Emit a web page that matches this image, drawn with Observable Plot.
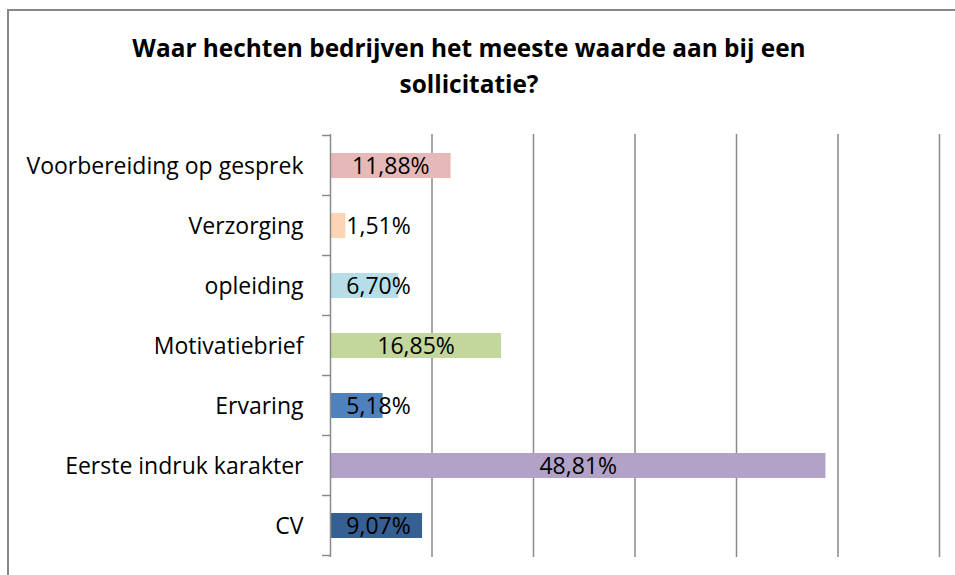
<!DOCTYPE html>
<html>
<head>
<meta charset="utf-8">
<script src="https://cdn.jsdelivr.net/npm/d3@7"></script>
<script src="https://cdn.jsdelivr.net/npm/@observablehq/plot@0.6"></script>
<style>
  html, body { margin: 0; padding: 0; background: #fff; }
  body { width: 955px; height: 575px; position: relative; overflow: hidden; font-family: "Open Sans", Lato, sans-serif; }
  #box { position: absolute; left: 7px; top: 9px; width: 960px; height: 600px; border: 2px solid #878787; box-sizing: border-box; }
  #title { position: absolute; left: 0; width: 938px; top: 30px; text-align: center; font-weight: bold; font-size: 24.4px; line-height: 36px; color: #000; }
  #chart { position: absolute; left: 0; top: 0; }
</style>
</head>
<body>
<div id="box"></div>
<div id="title">Waar hechten bedrijven het meeste waarde aan bij een<br>sollicitatie?</div>
<div id="chart"></div>
<script>
const categories = ["Voorbereiding op gesprek", "Verzorging", "opleiding", "Motivatiebrief", "Ervaring", "Eerste indruk karakter", "CV"];
const values = [11.88, 1.51, 6.70, 16.85, 5.18, 48.81, 9.07];
const valueLabels = ["11,88%", "1,51%", "6,70%", "16,85%", "5,18%", "48,81%", "9,07%"];
const barColors = ["#e6b9b8", "#fcd5b5", "#b7dee8", "#c3d69b", "#4f81bd", "#b3a2c7", "#376092"];
const xGridTicks = [10, 20, 30, 40, 50, 60];

const data = categories.map((c, i) => ({ category: c, value: values[i], label: valueLabels[i] }));
const gridColor = "#8a8a8a";

function bandTicks(index, scales, values, dimensions) {
  const y = scales.y;
  const x0 = scales.x(0);
  const bw = typeof y.bandwidth === "function" ? y.bandwidth() : y.bandwidth;
  const step = y(categories[1]) - y(categories[0]);
  const first = y(categories[0]) - (step - bw) / 2;
  const g = d3.create("svg:g");
  for (let i = 0; i <= categories.length; i++) {
    const yy = first + i * step;
    g.append("line")
      .attr("x1", x0 - 8).attr("x2", x0)
      .attr("y1", yy).attr("y2", yy)
      .attr("stroke", gridColor).attr("stroke-width", 1.5);
  }
  return g.node();
}

const chart = Plot.plot({
  width: 955,
  height: 575,
  marginLeft: 330,
  marginRight: 16,
  marginTop: 134,
  marginBottom: 18,
  style: { fontFamily: "'Open Sans', Lato, sans-serif", background: "transparent", overflow: "visible" },
  x: { domain: [0, 60], axis: null },
  y: { domain: categories, paddingInner: 0.59, paddingOuter: 0.295, axis: null },
  color: { domain: categories, range: barColors },
  marks: [
    Plot.ruleX(xGridTicks, { stroke: gridColor, strokeWidth: 1.5 }),
    Plot.barX(data, { x: "value", y: "category", fill: "category" }),
    Plot.ruleX([0], { stroke: gridColor, strokeWidth: 1.5 }),
    bandTicks,
    Plot.text(data, { x: d => Math.max(d.value / 2, 4.73), y: "category", text: "label", fontSize: 23, fill: "#000", dy: 1 }),
    Plot.text(categories, { x: () => 0, y: d => d, text: d => d, dx: -27, textAnchor: "end", fontSize: 23, fill: "#000", dy: 1 })
  ]
});
document.getElementById("chart").appendChild(chart);
</script>
</body>
</html>
